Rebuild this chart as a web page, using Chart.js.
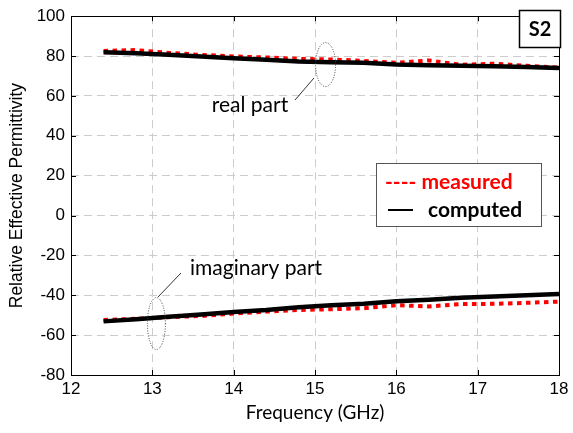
<!DOCTYPE html>
<html>
<head>
<meta charset="utf-8">
<script src="https://cdn.jsdelivr.net/npm/chart.js@4"></script>
<style>
  html, body { margin: 0; padding: 0; background: #fff; }
  #wrap { width: 573px; height: 433px; }
</style>
</head>
<body>
<div id="wrap"><canvas id="myChart" width="573" height="433"></canvas></div>
<script>
// frequency points (GHz)
const freq = [12.4, 12.8, 13.2, 13.6, 14.0, 14.4, 14.8, 15.2, 15.6, 16.0, 16.4, 16.8, 17.2, 17.6, 18.0];

// real part
const realComputed = [81.9, 81.4, 80.7, 79.8, 78.9, 78.1, 77.3, 76.9, 76.6, 75.8, 75.4, 75.1, 74.9, 74.5, 74.0];
const realMeasured = [82.6, 83.0, 81.6, 80.6, 79.8, 79.3, 78.6, 78.3, 77.6, 76.6, 77.8, 75.6, 76.2, 75.1, 74.2];

// imaginary part
const imagComputed = [-53.1, -52.0, -50.8, -49.6, -48.4, -47.4, -46.0, -45.0, -44.2, -43.0, -42.3, -41.3, -40.6, -40.0, -39.4];
const imagMeasured = [-52.4, -51.8, -51.0, -50.4, -49.2, -48.2, -47.4, -47.0, -46.5, -45.0, -45.6, -44.4, -44.3, -43.8, -43.2];

const xTicks = [12, 13, 14, 15, 16, 17, 18];
const yTicks = [-80, -60, -40, -20, 0, 20, 40, 60, 80, 100];

const toPoints = (vals) => freq.map((f, i) => ({ x: f, y: vals[i] }));

const tickFont = { family: "'Liberation Sans', Arial, sans-serif", size: 17 };
const noteFont = "Lato, 'Open Sans', sans-serif";

const computedStyle = { borderColor: "#000", borderWidth: 4.5, pointRadius: 0, tension: 0, fill: false };
const measuredStyle = { borderColor: "#ff0000", borderWidth: 4, borderDash: [4.5, 4.5], pointRadius: 0, tension: 0, fill: false };

// frame, inner ticks, notes and legend box
const decorations = {
    id: "decorations",
    afterDatasetsDraw(chart) {
        const { ctx, chartArea: a, scales } = chart;
        ctx.save();

        // frame
        ctx.strokeStyle = "#000";
        ctx.lineWidth = 1;
        ctx.setLineDash([]);
        ctx.strokeRect(Math.round(a.left) + 0.5, Math.round(a.top) + 0.5, Math.round(a.right - a.left), Math.round(a.bottom - a.top));

        // ticks pointing inwards
        ctx.beginPath();
        xTicks.forEach(t => {
            const px = Math.round(scales.x.getPixelForValue(t)) + 0.5;
            ctx.moveTo(px, a.bottom); ctx.lineTo(px, a.bottom - 5);
            ctx.moveTo(px, a.top); ctx.lineTo(px, a.top + 5);
        });
        yTicks.forEach(t => {
            const py = Math.round(scales.y.getPixelForValue(t)) + 0.5;
            ctx.moveTo(a.left, py); ctx.lineTo(a.left + 5, py);
            ctx.moveTo(a.right, py); ctx.lineTo(a.right - 5, py);
        });
        ctx.stroke();

        // ellipses around the curves
        ctx.strokeStyle = "#444";
        ctx.lineWidth = 1;
        ctx.setLineDash([1, 1.5]);
        ctx.beginPath();
        ctx.ellipse(scales.x.getPixelForValue(15.13), scales.y.getPixelForValue(75.7), 10, 22, 0, 0, Math.PI * 2);
        ctx.stroke();
        ctx.beginPath();
        ctx.ellipse(scales.x.getPixelForValue(13.05), scales.y.getPixelForValue(-54.2), 9, 26, 0, 0, Math.PI * 2);
        ctx.stroke();

        // leader lines
        ctx.setLineDash([]);
        ctx.strokeStyle = "#333";
        ctx.beginPath();
        ctx.moveTo(314, 78); ctx.lineTo(295, 100);
        ctx.moveTo(158, 297); ctx.lineTo(181, 273);
        ctx.stroke();

        // notes
        ctx.fillStyle = "#000";
        ctx.font = "21px " + noteFont;
        ctx.textBaseline = "middle";
        ctx.textAlign = "center";
        ctx.fillText("real part", 250, 105);
        ctx.textAlign = "left";
        ctx.fillText("imaginary part", 190, 268);

        // S2 box
        ctx.fillStyle = "#fff";
        ctx.fillRect(519.5, 10.5, 41, 37);
        ctx.strokeStyle = "#000";
        ctx.lineWidth = 1.5;
        ctx.strokeRect(519.5, 10.5, 41, 37);
        ctx.fillStyle = "#000";
        ctx.font = "bold 20px " + noteFont;
        ctx.textAlign = "center";
        ctx.fillText("S2", 540, 30);

        // legend box
        ctx.fillStyle = "#fff";
        ctx.fillRect(376, 163, 166, 64);
        ctx.strokeStyle = "#555";
        ctx.lineWidth = 1;
        ctx.strokeRect(376.5, 163.5, 165, 63);
        ctx.font = "bold 21px " + noteFont;
        ctx.textAlign = "left";
        ctx.fillStyle = "#ff0000";
        ctx.fillText("---- measured", 385, 182);
        ctx.strokeStyle = "#000";
        ctx.lineWidth = 2;
        ctx.beginPath();
        ctx.moveTo(388, 210); ctx.lineTo(413, 210);
        ctx.stroke();
        ctx.fillStyle = "#000";
        ctx.fillText("computed", 428, 210);

        ctx.restore();
    }
};

new Chart(document.getElementById("myChart").getContext("2d"), {
    type: "line",
    data: {
        datasets: [
            Object.assign({ label: "computed real", data: toPoints(realComputed) }, computedStyle),
            Object.assign({ label: "computed imag", data: toPoints(imagComputed) }, computedStyle),
            Object.assign({ label: "measured real", data: toPoints(realMeasured) }, measuredStyle),
            Object.assign({ label: "measured imag", data: toPoints(imagMeasured) }, measuredStyle)
        ]
    },
    options: {
        responsive: false,
        animation: false,
        layout: { padding: { left: 0, right: 14, top: 10, bottom: 0 } },
        plugins: {
            legend: { display: false },
            tooltip: { enabled: false }
        },
        scales: {
            x: {
                type: "linear",
                min: 12,
                max: 18,
                afterFit: (s) => { s.height = 58; },
                afterBuildTicks: (s) => { s.ticks = xTicks.map(v => ({ value: v })); },
                ticks: { font: tickFont, color: "#000", padding: 4, maxRotation: 0 },
                grid: { color: "#cccccc", lineWidth: 1, drawTicks: false },
                border: { display: false, dash: [8, 5] },
                title: {
                    display: true,
                    text: "Frequency (GHz)",
                    color: "#000",
                    font: { family: noteFont, size: 19 },
                    padding: { top: 0, bottom: 9 }
                }
            },
            y: {
                min: -80,
                max: 100,
                afterFit: (s) => { s.width = 71; },
                afterBuildTicks: (s) => { s.ticks = yTicks.map(v => ({ value: v })); },
                ticks: { font: tickFont, color: "#000", padding: 6 },
                grid: { color: "#cccccc", lineWidth: 1, drawTicks: false },
                border: { display: false, dash: [8, 5] },
                title: {
                    display: true,
                    text: "Relative Effective Permittivity",
                    color: "#000",
                    font: { family: tickFont.family, size: 17.5 },
                    padding: { top: 7, bottom: 0 }
                }
            }
        }
    },
    plugins: [decorations]
});
</script>
</body>
</html>
